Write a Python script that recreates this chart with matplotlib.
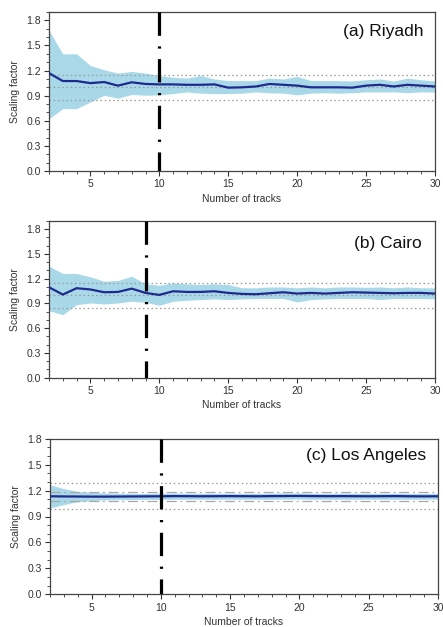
import matplotlib
matplotlib.use("Agg")
import matplotlib.pyplot as plt
import numpy as np

plt.rcParams['font.family'] = ['Liberation Sans', 'DejaVu Sans']

tracks = list(range(2, 31))

riyadh_mean = [1.17, 1.075, 1.075, 1.05, 1.063, 1.02, 1.06, 1.04, 1.035, 1.035, 1.03, 1.03, 1.035,
               0.996, 1.0, 1.01, 1.04, 1.03, 1.02, 1.0, 1.0, 1.0, 0.996, 1.02, 1.03, 1.01, 1.03, 1.02, 1.01]
riyadh_upper = [1.68, 1.40, 1.40, 1.26, 1.21, 1.17, 1.19, 1.17, 1.14, 1.12, 1.11, 1.14, 1.10,
                1.08, 1.08, 1.08, 1.11, 1.10, 1.13, 1.08, 1.08, 1.08, 1.075, 1.09, 1.10, 1.075, 1.11, 1.09, 1.075]
riyadh_lower = [0.625, 0.745, 0.745, 0.825, 0.905, 0.87, 0.915, 0.905, 0.91, 0.925, 0.945, 0.93, 0.925,
                0.925, 0.93, 0.945, 0.935, 0.93, 0.91, 0.93, 0.935, 0.93, 0.935, 0.945, 0.945, 0.945, 0.935, 0.945, 0.945]

cairo_mean = [1.097, 1.008, 1.085, 1.07, 1.036, 1.04, 1.08, 1.028, 1.004, 1.048, 1.04, 1.04, 1.048,
              1.028, 1.016, 1.012, 1.024, 1.036, 1.02, 1.028, 1.02, 1.028, 1.036, 1.032, 1.028, 1.024, 1.028, 1.028, 1.02]
cairo_upper = [1.353, 1.264, 1.264, 1.223, 1.17, 1.18, 1.23, 1.138, 1.12, 1.15, 1.138, 1.13, 1.138,
               1.13, 1.09, 1.09, 1.10, 1.10, 1.09, 1.10, 1.09, 1.10, 1.10, 1.096, 1.10, 1.09, 1.10, 1.09, 1.09]
cairo_lower = [0.813, 0.764, 0.886, 0.906, 0.894, 0.906, 0.927, 0.914, 0.878, 0.927, 0.939, 0.947, 0.955,
               0.947, 0.955, 0.96, 0.96, 0.96, 0.918, 0.947, 0.955, 0.96, 0.96, 0.96, 0.947, 0.96, 0.96, 0.96, 0.955]

la_mean = [1.134, 1.132, 1.131, 1.13, 1.13, 1.131, 1.132, 1.133, 1.134, 1.136, 1.135, 1.134, 1.135,
           1.136, 1.135, 1.134, 1.136, 1.137, 1.138, 1.136, 1.135, 1.136, 1.135, 1.134, 1.135, 1.136, 1.134, 1.133, 1.134]
la_upper = [1.266, 1.223, 1.19, 1.18, 1.172, 1.17, 1.168, 1.168, 1.17, 1.172, 1.17, 1.168, 1.17,
            1.17, 1.168, 1.168, 1.17, 1.172, 1.172, 1.17, 1.168, 1.17, 1.17, 1.168, 1.168, 1.17, 1.168, 1.168, 1.168]
la_lower = [0.999, 1.038, 1.07, 1.084, 1.092, 1.095, 1.096, 1.098, 1.098, 1.1, 1.1, 1.1, 1.1,
            1.1, 1.1, 1.1, 1.1, 1.102, 1.102, 1.1, 1.1, 1.1, 1.1, 1.1, 1.1, 1.1, 1.1, 1.1, 1.1]

titles = ["(a) Riyadh", "(b) Cairo", "(c) Los Angeles"]
vlines = [10, 9, 10]
ref_center = [1.0, 1.0, 1.135]
ref_outer = [0.15, 0.15, 0.15]
ymax = [1.9, 1.9, 1.8]
yticks = [0.0, 0.3, 0.6, 0.9, 1.2, 1.5, 1.8]
xticks = [5, 10, 15, 20, 25, 30]

means = [riyadh_mean, cairo_mean, la_mean]
uppers = [riyadh_upper, cairo_upper, la_upper]
lowers = [riyadh_lower, cairo_lower, la_lower]

W, H = 443, 627
fig = plt.figure(figsize=(W / 100, H / 100), dpi=100)

boxes = [(49, 435, 12, 171), (49, 435, 221, 377.7), (50, 438, 438.7, 594.3)]
title_pos = [(0.971, 0.88), (0.965, 0.858), (0.969, 0.895)]

for i in range(3):
    l, r, t, b = boxes[i]
    ax = fig.add_axes([l / W, 1 - b / H, (r - l) / W, (b - t) / H])
    ax.fill_between(tracks, lowers[i], uppers[i], color='#a9d9e8', lw=0, zorder=1)
    c = ref_center[i]
    for yv in (c - ref_outer[i], c, c + ref_outer[i]):
        ax.axhline(yv, color='#999999', lw=0.9, ls=(0, (1.2, 2.2)), zorder=2)
    if i == 2:
        for yv in (c - 0.05, c + 0.05):
            ax.axhline(yv, color='#a8a8a8', lw=0.9, ls=(0, (8, 3, 1.5, 3)), zorder=2)
    ax.plot(tracks, means[i], color='#1f2a8f', lw=1.6, zorder=3)
    ax.plot([vlines[i], vlines[i]], [ymax[i], 0], color='black', lw=2.3,
            ls=(0, (7.3, 3.3, 0.7, 3.3)), solid_capstyle='butt', dash_capstyle='butt', zorder=4)
    ax.set_xlim(2, 30)
    ax.set_ylim(0, ymax[i])
    ax.set_xticks(xticks)
    ax.set_yticks(yticks)
    ax.set_xticks(range(2, 31), minor=True)
    ax.set_yticks(np.arange(0, ymax[i] + 0.001, 0.1), minor=True)
    ax.set_yticklabels([f"{v:.1f}" for v in yticks])
    ax.tick_params(axis='both', which='major', direction='out', length=3.5, width=0.8,
                   labelsize=7.5, colors='#333333', pad=2.5)
    ax.tick_params(axis='both', which='minor', direction='out', length=2, width=0.6, colors='#333333')
    ax.tick_params(top=False, right=False)
    for s in ax.spines.values():
        s.set_color('#444444')
        s.set_linewidth(0.9)
    ax.set_xlabel("Number of tracks", fontsize=7.5, color='#333333', labelpad=3)
    ax.set_ylabel("Scaling factor", fontsize=7.5, color='#333333', labelpad=4)
    ax.text(title_pos[i][0], title_pos[i][1], titles[i], transform=ax.transAxes,
            ha='right', va='center', fontsize=12.5, color='#111111')

fig.savefig("out.png", dpi=100)
